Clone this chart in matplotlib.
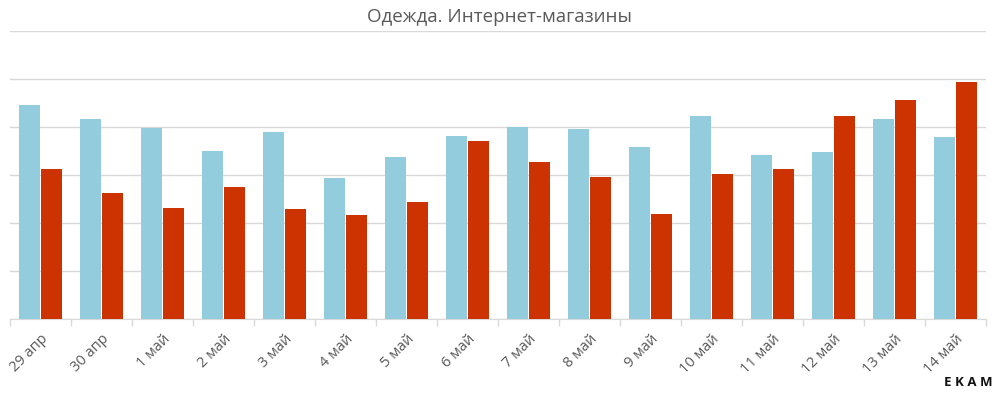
import numpy as np
import matplotlib.pyplot as plt

plt.rcParams['font.family'] = ['Open Sans', 'DejaVu Sans']

days = ['29 апр', '30 апр', '1 май', '2 май', '3 май', '4 май', '5 май', '6 май',
        '7 май', '8 май', '9 май', '10 май', '11 май', '12 май', '13 май', '14 май']
series_blue = [4.46, 4.17, 3.98, 3.50, 3.90, 2.94, 3.38, 3.81,
               4.00, 3.96, 3.58, 4.23, 3.42, 3.48, 4.17, 3.79]
series_red = [3.13, 2.63, 2.31, 2.75, 2.29, 2.17, 2.44, 3.71,
              3.27, 2.96, 2.19, 3.02, 3.13, 4.23, 4.56, 4.94]

blue = '#93CDDD'
red = '#CC3300'
grey = '#595959'

fig = plt.figure(figsize=(9.99, 3.96), dpi=100)
ax = fig.add_axes([10/999, 77/396, 976/999, 288/396])

x = np.arange(len(days))
w = 0.33
ax.bar(x - w/2 - 0.015, series_blue, width=w, color=blue, zorder=3)
ax.bar(x + w/2 + 0.015, series_red, width=w, color=red, zorder=3)

ax.set_xlim(-0.5, len(days) - 0.5)
ax.set_ylim(0, 6)
ax.set_yticks(np.arange(0, 7, 1))
ax.set_yticklabels([])
ax.tick_params(axis='y', length=0)
ax.grid(axis='y', color='#D9D9D9', linewidth=1, zorder=0)

ax.set_xticks(x)
ax.set_xticklabels(days, rotation=45, ha='right', rotation_mode='anchor',
                   fontsize=10.5, color=grey)
ax.tick_params(axis='x', which='major', length=0, pad=9)
ax.set_xticks(np.arange(-0.5, len(days)), minor=True)
ax.tick_params(axis='x', which='minor', length=5, color='#D9D9D9', width=1)

for s in ['top', 'right', 'left']:
    ax.spines[s].set_visible(False)
ax.spines['bottom'].set_color('#D9D9D9')

fig.text(0.5, 1 - 17/396, 'Одежда. Интернет-магазины', ha='center', va='center',
         fontsize=13.5, color=grey)
fig.text(993/999, 1 - 383/396, 'E K A M', ha='right', va='center',
         fontsize=9.5, fontweight='bold', color='#111111')

fig.savefig('out.png', dpi=100)
